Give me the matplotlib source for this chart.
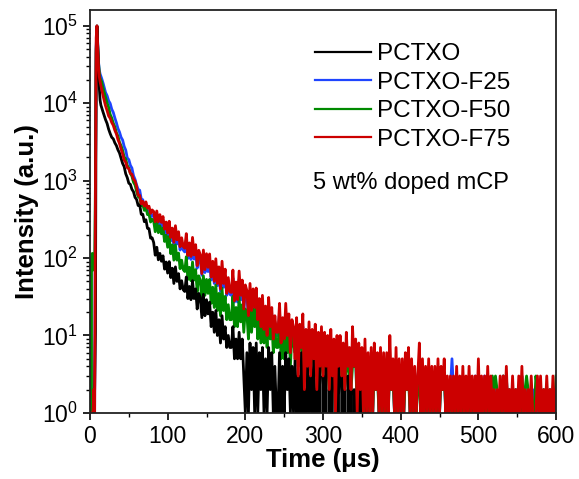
import matplotlib
matplotlib.use('Agg')
import numpy as np
import matplotlib.pyplot as plt
from matplotlib.ticker import MultipleLocator, LogLocator

plt.rcParams['font.family'] = ['Liberation Sans', 'DejaVu Sans']
plt.rcParams['mathtext.fontset'] = 'custom'
plt.rcParams['mathtext.rm'] = 'Liberation Sans'
plt.rcParams['mathtext.default'] = 'regular'

# ---------------- data ----------------
# channel times: 1 us steps up to 20 us, then 2 us steps
time_early = np.arange(0, 21)
time_late = np.arange(22, 601, 2)

pctxo_early = [0, 0, 0, 0, 0, 1, 2, 11, 45000, 100000, 52000, 26000, 16000, 11000,
               9500, 8800, 8200, 7600, 7100, 6600, 6150]
pctxo_late = [
    5490, 4630, 4060, 3630, 3470, 3080, 2840, 2500, 2280, 1940,
    1670, 1520, 1230, 1095, 927, 896, 772, 720, 609, 572,
    478, 488, 368, 368, 295, 313, 243, 240, 181, 183,
    159, 109, 138, 95, 115, 91, 107, 72, 89, 64,
    90, 56, 74, 47, 77, 50, 63, 40, 51, 39,
    37, 57, 30, 43, 29, 51, 30, 40, 22, 35,
    31, 17, 34, 18, 29, 19, 27, 13, 20, 11,
    21, 10, 16, 8, 18, 9, 13, 7, 10, 7,
    7, 13, 5, 9, 5, 11, 5, 9, 3, 1,
    6, 1, 8, 2, 7, 1, 8, 1, 6, 2,
    7, 1, 5, 1, 7, 2, 6, 1, 4, 1,
    1, 6, 1, 4, 1, 6, 2, 5, 1, 4,
    1, 5, 1, 3, 1, 6, 1, 2, 1, 4,
    1, 3, 1, 5, 1, 2, 1, 4, 0, 3,
    1, 4, 0, 2, 1, 3, 0, 1, 1, 4,
    0, 3, 1, 2, 0, 3, 1, 2, 0, 2,
    0, 2, 0, 2, 0, 1, 0, 3, 0, 1,
]

f25_early = [0, 0, 0, 2, 1, 0, 1, 600, 55000, 97000, 56000, 34000, 27000, 24000,
             22500, 21000, 19500, 18000, 16500, 15000, 13800]
f25_late = [
    12575, 10780, 9970, 8400, 7610, 6475, 5600, 4730, 4245, 3640,
    3350, 2775, 2490, 1970, 1870, 1580, 1455, 1163, 1040, 881,
    771, 753, 580, 567, 447, 470, 396, 408, 339, 366,
    344, 267, 341, 262, 307, 253, 289, 212, 248, 190,
    248, 167, 207, 146, 215, 152, 183, 127, 157, 127,
    120, 170, 99, 133, 96, 150, 97, 123, 74, 105,
    94, 60, 104, 65, 94, 67, 91, 52, 76, 47,
    80, 44, 64, 37, 72, 42, 59, 33, 48, 34,
    33, 55, 27, 42, 27, 53, 29, 42, 21, 37,
    32, 17, 37, 19, 32, 21, 32, 15, 25, 13,
    26, 12, 20, 10, 24, 12, 19, 9, 15, 10,
    10, 20, 8, 14, 8, 20, 9, 15, 6, 13,
    10, 6, 12, 4, 11, 7, 13, 3, 10, 5,
    11, 4, 9, 5, 10, 3, 8, 5, 9, 4,
    8, 5, 7, 3, 9, 4, 7, 2, 7, 5,
    7, 4, 6, 3, 7, 5, 5, 3, 8, 4,
    6, 1, 5, 2, 5, 1, 6, 1, 4, 1,
    4, 1, 5, 2, 4, 1, 4, 1, 4, 1,
    4, 1, 5, 2, 3, 1, 4, 1, 3, 1,
    3, 1, 4, 2, 4, 1, 3, 1, 3, 1,
    3, 4, 1, 3, 1, 3, 1, 3, 1, 3,
    1, 3, 1, 3, 1, 3, 2, 3, 1, 2,
    1, 2, 5, 2, 1, 3, 1, 2, 1, 3,
    1, 2, 1, 3, 1, 2, 1, 3, 1, 3,
    1, 2, 1, 3, 1, 3, 1, 2, 1, 2,
    1, 2, 1, 2, 1, 3, 1, 3, 1, 2,
    1, 2, 1, 2, 1, 2, 1, 3, 1, 2,
    1, 2, 1, 2, 1, 2, 1, 2, 1, 2,
    1, 2, 1, 2, 1, 2, 1, 2, 1, 2,
]

f50_early = [0, 0, 90, 115, 70, 105, 75, 900, 50000, 97000, 55000, 33000, 25000, 21000,
             20000, 19000, 17000, 15500, 14200, 13100, 12000]
f50_late = [
    10160, 8870, 7180, 6450, 5530, 4960, 4170, 3760, 3140, 2830,
    2475, 2020, 1910, 1570, 1460, 1240, 1140, 955, 880, 727,
    621, 614, 474, 493, 413, 452, 365, 371, 292, 317,
    301, 219, 297, 213, 261, 206, 244, 164, 197, 138,
    190, 114, 148, 94, 148, 94, 116, 73, 94, 71,
    67, 104, 53, 76, 51, 89, 52, 71, 37, 59,
    52, 29, 59, 33, 53, 35, 53, 26, 42, 23,
    45, 21, 35, 18, 41, 21, 32, 16, 25, 16,
    16, 32, 13, 23, 13, 31, 15, 25, 11, 22,
    19, 9, 24, 11, 22, 13, 23, 9, 18, 8,
    21, 8, 16, 7, 21, 9, 16, 6, 12, 7,
    7, 17, 5, 11, 5, 16, 6, 12, 4, 10,
    8, 6, 7, 4, 8, 7, 6, 3, 7, 5,
    6, 4, 5, 5, 6, 3, 5, 4, 5, 3,
    5, 4, 4, 2, 5, 3, 4, 1, 4, 4,
    4, 3, 4, 2, 4, 4, 3, 2, 4, 4,
    5, 1, 4, 2, 4, 1, 5, 1, 3, 1,
    3, 1, 4, 2, 3, 1, 3, 1, 3, 1,
    3, 1, 4, 2, 3, 1, 3, 1, 3, 1,
    3, 1, 3, 2, 3, 1, 3, 1, 3, 1,
    2, 3, 1, 3, 1, 3, 1, 3, 1, 3,
    1, 3, 1, 3, 1, 3, 2, 3, 1, 2,
    1, 2, 1, 2, 1, 3, 1, 2, 1, 3,
    1, 2, 1, 3, 1, 2, 1, 2, 1, 3,
    1, 2, 1, 2, 1, 3, 1, 2, 3, 2,
    3, 2, 1, 2, 1, 3, 1, 3, 1, 2,
    1, 2, 1, 2, 1, 2, 1, 3, 1, 2,
    3, 2, 1, 2, 1, 1, 3, 2, 1, 2,
    1, 2, 1, 2, 1, 2, 1, 2, 1, 3,
]

f75_early = [0, 0, 1, 0, 1, 2, 1, 500, 70000, 100000, 52000, 30000, 22000, 19000,
             17000, 15200, 13500, 12300, 11200, 10300, 9300]
f75_late = [
    8050, 6860, 6400, 5640, 5180, 4480, 4020, 3400, 3030, 2560,
    2220, 1850, 1730, 1470, 1430, 1240, 1210, 1045, 990, 842,
    649, 647, 503, 541, 469, 532, 443, 468, 378, 419,
    400, 295, 406, 294, 364, 289, 344, 236, 292, 211,
    299, 185, 244, 160, 262, 172, 219, 140, 183, 141,
    134, 207, 108, 157, 105, 185, 110, 149, 80, 126,
    111, 63, 127, 71, 114, 76, 113, 57, 91, 50,
    98, 47, 77, 40, 91, 47, 72, 35, 56, 37,
    36, 70, 28, 49, 29, 68, 33, 52, 22, 45,
    38, 18, 47, 21, 40, 23, 41, 16, 30, 13,
    33, 12, 24, 10, 31, 13, 23, 9, 18, 11,
    11, 26, 8, 17, 9, 26, 10, 19, 6, 16,
    13, 5, 17, 3, 14, 7, 19, 2, 12, 4,
    15, 3, 12, 5, 14, 2, 11, 4, 13, 3,
    11, 4, 10, 2, 12, 3, 9, 1, 10, 4,
    10, 3, 8, 2, 11, 4, 7, 2, 13, 4,
    9, 1, 8, 2, 7, 1, 9, 1, 6, 1,
    7, 1, 8, 2, 6, 1, 7, 1, 6, 1,
    6, 1, 10, 2, 5, 1, 7, 1, 5, 1,
    5, 1, 6, 2, 7, 1, 5, 1, 4, 1,
    3, 8, 1, 5, 1, 4, 1, 5, 1, 4,
    1, 4, 1, 5, 1, 4, 2, 5, 1, 3,
    1, 3, 1, 3, 1, 4, 1, 3, 1, 4,
    1, 3, 1, 4, 1, 3, 1, 3, 1, 5,
    1, 3, 1, 3, 1, 4, 1, 3, 1, 2,
    1, 2, 1, 3, 1, 3, 1, 4, 1, 2,
    1, 3, 1, 2, 1, 3, 1, 4, 1, 2,
    1, 2, 1, 3, 1, 1, 1, 3, 1, 3,
    1, 2, 1, 3, 1, 2, 1, 3, 1, 2,
]

labels = ['PCTXO', 'PCTXO-F25', 'PCTXO-F50', 'PCTXO-F75']
colors = ['#000000', '#1f45ff', '#008a00', '#cc0000']
zorders = [4, 2, 3, 5]

time = np.concatenate([time_early, time_late])
series = [
    np.array(pctxo_early + pctxo_late, dtype=float),
    np.array(f25_early + f25_late, dtype=float),
    np.array(f50_early + f50_late, dtype=float),
    np.array(f75_early + f75_late, dtype=float),
]

# ---------------- plot ----------------
fig = plt.figure(figsize=(5.79, 4.79), dpi=100)
ax = fig.add_axes([0.1554, 0.138, 0.805, 0.841])

for y, lab, c, z in zip(series, labels, colors, zorders):
    ax.plot(time[:len(y)], y, color=c, lw=2.0, label=lab, zorder=z)

ax.set_yscale('log')
ax.set_xlim(0, 600)
ax.set_ylim(1, 1.6e5)
ax.xaxis.set_major_locator(MultipleLocator(100))
ax.xaxis.set_minor_locator(MultipleLocator(50))
ax.yaxis.set_major_locator(LogLocator(base=10, numticks=10))
ax.yaxis.set_minor_locator(LogLocator(base=10, subs=np.arange(2, 10), numticks=20))

ax.tick_params(which='both', direction='out', labelsize=16.5, top=False, right=False)
ax.tick_params(which='major', length=5, width=1.2)
ax.tick_params(which='minor', length=3, width=1.0)
for sp in ax.spines.values():
    sp.set_linewidth(1.3)
    sp.set_color('#222222')
    sp.set_zorder(6)

ax.set_xlabel('Time (\u03bcs)', fontsize=18.5, fontweight='bold', labelpad=0)
ax.set_ylabel('Intensity (a.u.)', fontsize=18.5, fontweight='bold', labelpad=2)

leg = ax.legend(loc='upper left', bbox_to_anchor=(315 / 579, 1 - 43 / 479),
                bbox_transform=fig.transFigure, frameon=False, fontsize=17.5,
                handlelength=2.3, handletextpad=0.25, labelspacing=0.27,
                borderpad=0, borderaxespad=0)
for h in leg.get_lines():
    h.set_linewidth(1.6)

fig.text(313 / 579, 1 - 183 / 479, '5 wt% doped mCP', fontsize=17, va='center', ha='left')

fig.savefig('out.png', dpi=100)
